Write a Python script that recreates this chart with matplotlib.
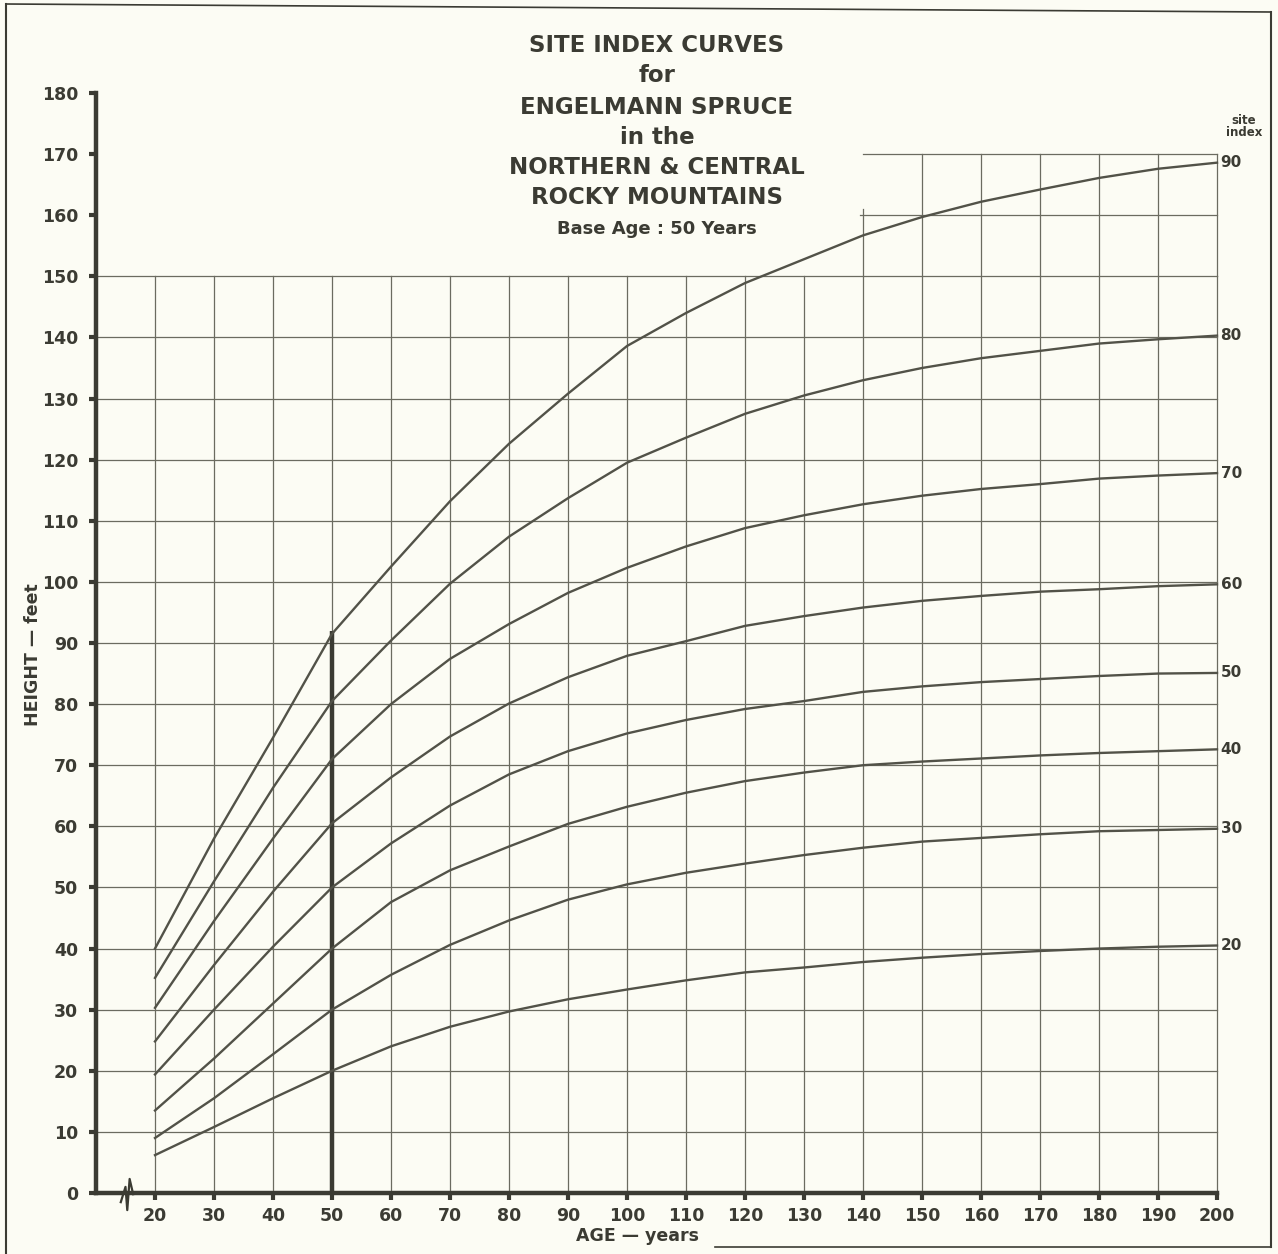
import matplotlib
matplotlib.use("Agg")
import matplotlib.pyplot as plt
from matplotlib.lines import Line2D

# data (height in feet at each age)
ages = [20, 30, 40, 50, 60, 70, 80, 90, 100, 110, 120, 130, 140, 150, 160, 170, 180, 190, 200]
site_index = [90, 80, 70, 60, 50, 40, 30, 20]
si90 = [40, 58, 74.5, 91.5, 102.5, 113.2, 122.6, 130.8, 138.6, 144, 148.9, 152.8, 156.7, 159.7, 162.2, 164.2, 166.1, 167.6, 168.6]
si80 = [35.2, 51, 66.3, 80.5, 90.4, 99.7, 107.4, 113.7, 119.5, 123.6, 127.5, 130.5, 133, 135, 136.6, 137.8, 139, 139.7, 140.3]
si70 = [30.3, 44.5, 58, 71, 80, 87.4, 93.1, 98.2, 102.3, 105.8, 108.8, 110.9, 112.7, 114.1, 115.2, 116, 116.9, 117.4, 117.8]
si60 = [24.8, 37.3, 49.3, 60.5, 68, 74.7, 80.1, 84.4, 87.9, 90.3, 92.8, 94.4, 95.8, 96.9, 97.7, 98.4, 98.8, 99.3, 99.6]
si50 = [19.4, 30, 40.3, 50, 57.2, 63.4, 68.5, 72.3, 75.2, 77.4, 79.2, 80.5, 82, 82.9, 83.6, 84.1, 84.6, 85, 85.1]
si40 = [13.5, 22, 31, 40, 47.6, 52.8, 56.7, 60.4, 63.2, 65.5, 67.4, 68.8, 70, 70.6, 71.1, 71.6, 72, 72.3, 72.6]
si30 = [9, 15.5, 22.7, 30, 35.7, 40.6, 44.6, 48, 50.5, 52.4, 53.9, 55.3, 56.5, 57.5, 58.1, 58.7, 59.2, 59.4, 59.6]
si20 = [6.2, 10.8, 15.5, 20, 24, 27.2, 29.7, 31.7, 33.3, 34.8, 36.1, 36.9, 37.8, 38.5, 39.1, 39.6, 40, 40.3, 40.5]
curves = [si90, si80, si70, si60, si50, si40, si30, si20]

x_ticks = list(range(20, 201, 10))
y_ticks = list(range(0, 181, 10))

paper = "#fcfcf4"
ink = "#3b3b33"
line_col = "#525248"
grid_col = "#6b6b60"
font = "DejaVu Sans"

fig = plt.figure(figsize=(12.78, 12.54), dpi=100, facecolor=paper)
ax = fig.add_axes([96 / 1278, 1 - 1193 / 1254, 1121 / 1278, 1100 / 1254])
ax.set_facecolor(paper)
ax.set_xlim(10, 200)
ax.set_ylim(0, 180)

# grid paper
for a in x_ticks:
    ax.plot([a, a], [0, 150], color=grid_col, lw=0.9, clip_on=False, zorder=1)
for h in range(10, 151, 10):
    ax.plot([10, 200], [h, h], color=grid_col, lw=0.9, clip_on=False, zorder=1)
# partial grid above 150
ax.plot([139.5, 200], [160, 160], color=grid_col, lw=0.9, clip_on=False, zorder=1)
ax.plot([140, 200], [170, 170], color=grid_col, lw=0.9, clip_on=False, zorder=1)
ax.plot([140, 140], [150, 161], color=grid_col, lw=0.9, clip_on=False, zorder=1)
for a in range(150, 201, 10):
    ax.plot([a, a], [150, 170], color=grid_col, lw=0.9, clip_on=False, zorder=1)

# base age marker
ax.plot([50, 50], [0, 92], color=ink, lw=3.2, solid_capstyle="butt", zorder=2)

# curves
for si, h in zip(site_index, curves):
    ax.plot(ages, h, color=line_col, lw=1.7, clip_on=False, zorder=3)
    ax.text(200.6, h[-1], str(si), ha="left", va="center", fontsize=11,
            fontweight="bold", color=ink, family=font)
ax.text(204.6, 174.5, "site\nindex", ha="center", va="center", fontsize=8.5,
        fontweight="bold", color=ink, family=font, linespacing=0.9)

# axes
for s in ["top", "right"]:
    ax.spines[s].set_visible(False)
for s in ["left", "bottom"]:
    ax.spines[s].set_linewidth(3.2)
    ax.spines[s].set_color(ink)
ax.set_xticks(x_ticks)
ax.set_yticks(y_ticks)
ax.set_xticklabels([str(v) for v in x_ticks])
ax.set_yticklabels([str(v) for v in y_ticks])
ax.tick_params(axis="both", colors=ink, length=5, width=3, labelsize=12.5)
ax.tick_params(axis="y", pad=8)
ax.tick_params(axis="x", pad=5)
for lab in ax.get_xticklabels() + ax.get_yticklabels():
    lab.set_fontweight("bold")
    lab.set_family(font)

# axis break symbol
ax.plot([14.2, 15.0, 15.3, 15.7, 16.3], [-1.5, 1.0, -2.8, 2.3, -0.2],
        color=ink, lw=1.6, clip_on=False, zorder=4)

fig.text(637 / 1278, 1 - 1236 / 1254, "AGE \u2014 years", ha="center", va="center",
         fontsize=12.5, fontweight="bold", color=ink, family=font)
fig.text(33 / 1278, 1 - 655 / 1254, "HEIGHT \u2014 feet", ha="center", va="center",
         rotation=90, fontsize=12.5, fontweight="bold", color=ink, family=font)

# title block
title_lines = [("SITE INDEX CURVES", 45, 16.5), ("for", 75, 16.5),
               ("ENGELMANN SPRUCE", 107, 16.5), ("in the", 138, 16.5),
               ("NORTHERN & CENTRAL", 168, 16.5), ("ROCKY MOUNTAINS", 198, 16.5),
               ("Base Age : 50 Years", 229, 13)]
for txt, py, fs in title_lines:
    fig.text(657 / 1278, 1 - py / 1254, txt, ha="center", va="center",
             fontsize=fs, fontweight="bold", color=ink, family=font)

# scanned page frame
fig.add_artist(Line2D([6 / 1278, 6 / 1278], [0, 1 - 4 / 1254], color=ink, lw=1.5))
fig.add_artist(Line2D([1271 / 1278, 1271 / 1278], [1 - 1247 / 1254, 1 - 12 / 1254], color=ink, lw=1.5))
fig.add_artist(Line2D([6 / 1278, 1271 / 1278], [1 - 4 / 1254, 1 - 12 / 1254], color=ink, lw=1.2))
fig.add_artist(Line2D([715 / 1278, 1271 / 1278], [1 - 1247 / 1254, 1 - 1247 / 1254], color=ink, lw=1.2))

fig.savefig("out.png", dpi=100, facecolor=paper)
